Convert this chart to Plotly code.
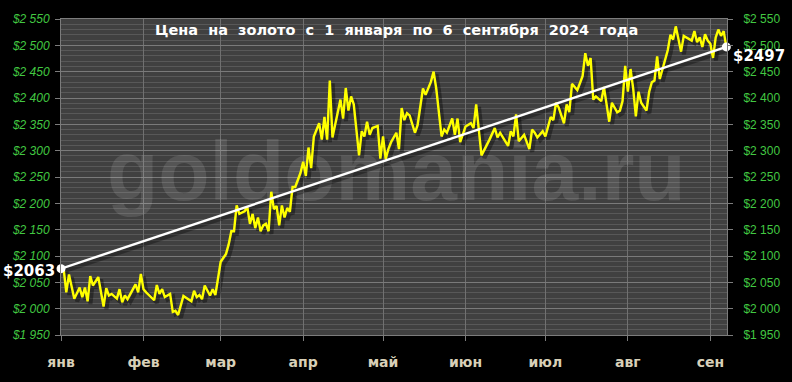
import pandas as pd
import plotly.graph_objects as go

# ---------------- data ----------------
dates = [
    # Jan
    "2024-01-02", "2024-01-03", "2024-01-04", "2024-01-06", "2024-01-08", "2024-01-09",
    "2024-01-10", "2024-01-11", "2024-01-12", "2024-01-13", "2024-01-15", "2024-01-17",
    "2024-01-18", "2024-01-19", "2024-01-20", "2024-01-22", "2024-01-23", "2024-01-24",
    "2024-01-25", "2024-01-26", "2024-01-29", "2024-01-30", "2024-01-31",
    # Feb
    "2024-02-01", "2024-02-02", "2024-02-05", "2024-02-06", "2024-02-07", "2024-02-08",
    "2024-02-09", "2024-02-11", "2024-02-12", "2024-02-13", "2024-02-14", "2024-02-16",
    "2024-02-19", "2024-02-20", "2024-02-21", "2024-02-22", "2024-02-23", "2024-02-24",
    "2024-02-25", "2024-02-26", "2024-02-27", "2024-02-28",
    # Mar
    "2024-03-01", "2024-03-03", "2024-03-04", "2024-03-05", "2024-03-06", "2024-03-07",
    "2024-03-08", "2024-03-10", "2024-03-11", "2024-03-12", "2024-03-13", "2024-03-14",
    "2024-03-15", "2024-03-16", "2024-03-17", "2024-03-18", "2024-03-19", "2024-03-20",
    "2024-03-21", "2024-03-22", "2024-03-23", "2024-03-24", "2024-03-25", "2024-03-26",
    "2024-03-27", "2024-03-28", "2024-03-29", "2024-03-31",
    # Apr
    "2024-04-01", "2024-04-02", "2024-04-03", "2024-04-04", "2024-04-05", "2024-04-07",
    "2024-04-08", "2024-04-09", "2024-04-10", "2024-04-11", "2024-04-12", "2024-04-15",
    "2024-04-16", "2024-04-17", "2024-04-18", "2024-04-19", "2024-04-20", "2024-04-22",
    "2024-04-23", "2024-04-24", "2024-04-25", "2024-04-26", "2024-04-27", "2024-04-29",
    "2024-04-30",
    # May
    "2024-05-01", "2024-05-02", "2024-05-03", "2024-05-04", "2024-05-06", "2024-05-07",
    "2024-05-08", "2024-05-09", "2024-05-10", "2024-05-11", "2024-05-13", "2024-05-14",
    "2024-05-16", "2024-05-17", "2024-05-19", "2024-05-20", "2024-05-21", "2024-05-23",
    "2024-05-24", "2024-05-25", "2024-05-27", "2024-05-28", "2024-05-29", "2024-05-30",
    # Jun
    "2024-06-01", "2024-06-03", "2024-06-04", "2024-06-05", "2024-06-07", "2024-06-10",
    "2024-06-12", "2024-06-13", "2024-06-14", "2024-06-17", "2024-06-18", "2024-06-19",
    "2024-06-20", "2024-06-21", "2024-06-23", "2024-06-25", "2024-06-26", "2024-06-27",
    "2024-06-28", "2024-06-30",
    # Jul
    "2024-07-01", "2024-07-03", "2024-07-04", "2024-07-05", "2024-07-06", "2024-07-08",
    "2024-07-09", "2024-07-10", "2024-07-11", "2024-07-13", "2024-07-15", "2024-07-16",
    "2024-07-17", "2024-07-18", "2024-07-19", "2024-07-20", "2024-07-22", "2024-07-23",
    "2024-07-25", "2024-07-26", "2024-07-28", "2024-07-29", "2024-07-30", "2024-07-31",
    # Aug
    "2024-08-01", "2024-08-02", "2024-08-03", "2024-08-04", "2024-08-05", "2024-08-06",
    "2024-08-08", "2024-08-09", "2024-08-10", "2024-08-11", "2024-08-12", "2024-08-13",
    "2024-08-14", "2024-08-16", "2024-08-17", "2024-08-18", "2024-08-19", "2024-08-21",
    "2024-08-22", "2024-08-23", "2024-08-25", "2024-08-26", "2024-08-27", "2024-08-28",
    "2024-08-29", "2024-08-30", "2024-08-31",
    # Sep
    "2024-09-01", "2024-09-02", "2024-09-03", "2024-09-04", "2024-09-05", "2024-09-06",
    "2024-09-07",
]

prices = [
    # Jan
    2075, 2031, 2065, 2019, 2040, 2022, 2040, 2014, 2062, 2044, 2060, 2004,
    2039, 2025, 2028, 2019, 2037, 2012, 2025, 2018, 2046, 2031, 2066,
    # Feb
    2037, 2031, 2016, 2045, 2028, 2037, 2022, 2028, 1994, 1996, 1988, 2024,
    2014, 2034, 2022, 2026, 2018, 2044, 2033, 2025, 2037, 2026,
    # Mar
    2089, 2104, 2122, 2147, 2147, 2196, 2180, 2185, 2193, 2161, 2180, 2153,
    2173, 2147, 2158, 2161, 2147, 2222, 2189, 2195, 2158, 2196, 2173, 2191,
    2184, 2231, 2231, 2258,
    # Apr
    2279, 2252, 2306, 2267, 2327, 2352, 2321, 2364, 2321, 2433, 2325, 2397,
    2361, 2419, 2376, 2403, 2388, 2291, 2337, 2327, 2355, 2330, 2343, 2347,
    2285,
    # May
    2327, 2284, 2303, 2316, 2334, 2303, 2381, 2358, 2371, 2367, 2334, 2349,
    2418, 2406, 2431, 2450, 2418, 2327, 2340, 2334, 2361, 2330, 2361, 2316,
    # Jun
    2346, 2352, 2343, 2388, 2291, 2321, 2343, 2325, 2334, 2309, 2337, 2327,
    2369, 2318, 2330, 2303, 2340, 2334, 2325, 2337,
    # Jul
    2327, 2364, 2358, 2391, 2382, 2352, 2388, 2373, 2427, 2415, 2442, 2485,
    2461, 2476, 2397, 2403, 2394, 2421, 2355, 2391, 2373, 2376, 2394, 2461,
    # Aug
    2412, 2455, 2418, 2365, 2412, 2391, 2376, 2412, 2430, 2433, 2479, 2436,
    2455, 2491, 2520, 2511, 2536, 2488, 2518, 2515, 2509, 2527, 2506, 2515,
    2497, 2521, 2509,
    # Sep
    2503, 2476, 2515, 2530, 2518, 2527, 2497,
]

trend_dates = ["2024-01-01", "2024-09-07"]
trend_values = [2076, 2497]
trend_labels = ["$2063", "$2497"]

month_ticks = ["2024-01-01", "2024-02-01", "2024-03-01", "2024-04-01", "2024-05-01",
               "2024-06-01", "2024-07-01", "2024-08-01", "2024-09-01"]
month_labels = ["янв", "фев", "мар", "апр", "май", "июн", "июл", "авг", "сен"]

y_ticks = [1950, 2000, 2050, 2100, 2150, 2200, 2250, 2300, 2350, 2400, 2450, 2500, 2550]
y_labels = ["$1 950", "$2 000", "$2 050", "$2 100", "$2 150", "$2 200", "$2 250",
            "$2 300", "$2 350", "$2 400", "$2 450", "$2 500", "$2 550"]

title_words = ["Цена", "на", "золото", "с", "1", "января", "по", "6", "сентября", "2024", "года"]
watermark_text = "goldomania.ru"
watermark_pos = ("2024-05-06", 2247)

x_range = ["2024-01-01", "2024-09-07 06:00"]
y_range = [1950, 2550]

assert len(dates) == len(prices)

# ---------------- figure ----------------
BG_PLOT = "#404040"
GREEN = "#42c842"
TAN = "#d8d0b8"

x = pd.to_datetime(dates)
fig = go.Figure()

# watermark (behind the lines)
fig.add_trace(go.Scatter(
    x=[watermark_pos[0]], y=[watermark_pos[1]], mode="text", text=[watermark_text],
    textfont=dict(family="Liberation Sans, Arial", size=84, weight="bold",
                  color="rgba(255,255,255,0.11)"),
    textposition="middle center", hoverinfo="skip", showlegend=False, cliponaxis=False))

# soft shadows
shadow_dx = pd.Timedelta(hours=26)
fig.add_trace(go.Scatter(
    x=x + shadow_dx, y=[p - 5 for p in prices], mode="lines",
    line=dict(color="rgba(0,0,0,0.35)", width=4), hoverinfo="skip", showlegend=False))
fig.add_trace(go.Scatter(
    x=pd.to_datetime(trend_dates) + shadow_dx, y=[v - 5 for v in trend_values], mode="lines",
    line=dict(color="rgba(0,0,0,0.30)", width=4), hoverinfo="skip", showlegend=False))

# price line
fig.add_trace(go.Scatter(
    x=x, y=prices, mode="lines", line=dict(color="#ffff00", width=2.4),
    hoverinfo="skip", showlegend=False))

# trend line with end dots
fig.add_trace(go.Scatter(
    x=trend_dates, y=trend_values, mode="lines+markers",
    line=dict(color="#ffffff", width=2.4),
    marker=dict(color="#ffffff", size=9),
    hoverinfo="skip", showlegend=False, cliponaxis=False))

# invisible trace for the right-hand axis
fig.add_trace(go.Scatter(
    x=trend_dates, y=trend_values, yaxis="y2", mode="lines",
    line=dict(color="rgba(0,0,0,0)"), hoverinfo="skip", showlegend=False))

axis_line = "#7c7c7c"
fig.update_layout(
    width=792, height=382,
    margin=dict(l=59, r=60, t=14, b=37),
    paper_bgcolor="#000000", plot_bgcolor=BG_PLOT,
    showlegend=False,
    xaxis=dict(
        type="date", range=x_range,
        tickmode="array", tickvals=month_ticks, ticktext=month_labels,
        tickfont=dict(family="DejaVu Sans", size=14, color=TAN, weight="bold"),
        ticks="outside", ticklen=5, tickcolor=axis_line, tickwidth=1,
        ticklabelstandoff=9,
        showgrid=True, gridcolor="#707070", gridwidth=1,
        showline=True, linecolor=axis_line, linewidth=1, mirror=True,
        zeroline=False, fixedrange=True,
    ),
    yaxis=dict(
        range=y_range, tickmode="array", tickvals=y_ticks, ticktext=y_labels,
        tickfont=dict(family="Liberation Sans, Arial", size=12, color=GREEN, style="italic"),
        ticks="outside", ticklen=5, tickcolor=axis_line, tickwidth=1,
        ticklabelstandoff=3,
        showgrid=True, gridcolor="#7a7a7a", gridwidth=1,
        minor=dict(tick0=1950, dtick=10, showgrid=True, gridcolor="#585858", gridwidth=1, ticklen=0),
        showline=True, linecolor=axis_line, linewidth=1, mirror=True,
        zeroline=False, fixedrange=True,
    ),
    yaxis2=dict(
        range=y_range, overlaying="y", side="right", tickmode="array",
        tickvals=y_ticks, ticktext=y_labels,
        tickfont=dict(family="Liberation Sans, Arial", size=12, color=GREEN),
        ticks="outside", ticklen=5, tickcolor=axis_line, tickwidth=1,
        ticklabelstandoff=8,
        showgrid=False, zeroline=False, showline=False, fixedrange=True,
    ),
)

# title inside the plot
fig.add_annotation(
    xref="paper", yref="paper", x=0.5035, y=1 - 12 / 331, xanchor="center", yanchor="middle",
    text="\u00a0\u00a0".join(title_words), showarrow=False,
    font=dict(family="DejaVu Sans", size=14.5, color="#ffffff", weight="bold"))

# end-point labels
fig.add_annotation(
    x=trend_dates[0], y=trend_values[0], xref="x", yref="y", text=trend_labels[0],
    showarrow=False, xanchor="right", yanchor="middle", xshift=-4, yshift=-2,
    font=dict(family="DejaVu Sans", size=15, color="#ffffff", weight="bold",
              shadow="2px 2px 2px #000"))
fig.add_annotation(
    x=trend_dates[1], y=trend_values[1], xref="x", yref="y", text=trend_labels[1],
    showarrow=False, xanchor="left", yanchor="middle", xshift=5, yshift=-9,
    font=dict(family="DejaVu Sans", size=15, color="#ffffff", weight="bold",
              shadow="2px 2px 2px #000"))

fig.write_html("out.html", config=dict(displayModeBar=False, staticPlot=True))
